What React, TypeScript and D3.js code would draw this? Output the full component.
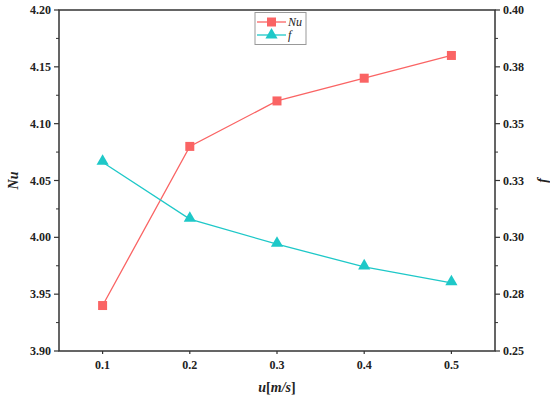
import React, { useEffect, useRef } from 'react';
import * as d3 from 'd3';

// data
const velocities = [0.1, 0.2, 0.3, 0.4, 0.5];
const nuValues = [3.94, 4.08, 4.12, 4.14, 4.16];
const fValues = [0.333, 0.308, 0.297, 0.287, 0.28];

const xTicks = [0.1, 0.2, 0.3, 0.4, 0.5];
const nuTicks = [3.9, 3.95, 4.0, 4.05, 4.1, 4.15, 4.2];
const fTicks = [0.25, 0.275, 0.3, 0.325, 0.35, 0.375, 0.4];
const fTickLabels = ['0.25', '0.28', '0.30', '0.33', '0.35', '0.38', '0.40'];

const NU_COLOR = '#FA6464';
const F_COLOR = '#1EC8C8';
const FONT = 'Times New Roman, Liberation Serif, DejaVu Serif, serif';

const W = 550;
const H = 397;

const App: React.FC = () => {
  const svgRef = useRef<SVGSVGElement>(null);

  useEffect(() => {
    if (!svgRef.current) return;
    const svg = d3.select(svgRef.current);
    svg.selectAll('*').remove();

    const margin = { top: 10, right: 55, bottom: 46, left: 59 };
    const x0 = margin.left;
    const x1 = W - margin.right;
    const y0 = margin.top;
    const y1 = H - margin.bottom;

    const x = d3.scaleLinear().domain([0.05, 0.55]).range([x0, x1]);
    const yNu = d3.scaleLinear().domain([3.9, 4.2]).range([y1, y0]);
    const yF = d3.scaleLinear().domain([0.25, 0.4]).range([y1, y0]);

    svg.append('rect').attr('width', W).attr('height', H).attr('fill', '#fff');

    const axisColor = '#333';

    // left ticks (major + minor)
    nuTicks.forEach((t, i) => {
      svg.append('line')
        .attr('x1', x0 - 5).attr('x2', x0)
        .attr('y1', yNu(t)).attr('y2', yNu(t))
        .attr('stroke', axisColor).attr('stroke-width', 1.2);
      svg.append('text')
        .attr('x', x0 - 8).attr('y', yNu(t))
        .attr('text-anchor', 'end').attr('dominant-baseline', 'central')
        .style('font-family', FONT).attr('font-weight', 'bold').attr('font-size', 12)
        .attr('fill', '#222')
        .text(d3.format('.2f')(t));
      if (i < nuTicks.length - 1) {
        const m = (t + nuTicks[i + 1]) / 2;
        svg.append('line')
          .attr('x1', x0 - 3).attr('x2', x0)
          .attr('y1', yNu(m)).attr('y2', yNu(m))
          .attr('stroke', axisColor).attr('stroke-width', 1);
      }
    });

    // right ticks
    fTicks.forEach((t, i) => {
      svg.append('line')
        .attr('x1', x1).attr('x2', x1 + 5)
        .attr('y1', yF(t)).attr('y2', yF(t))
        .attr('stroke', axisColor).attr('stroke-width', 1.2);
      svg.append('text')
        .attr('x', x1 + 8).attr('y', yF(t))
        .attr('text-anchor', 'start').attr('dominant-baseline', 'central')
        .style('font-family', FONT).attr('font-weight', 'bold').attr('font-size', 12)
        .attr('fill', '#222')
        .text(fTickLabels[i]);
      if (i < fTicks.length - 1) {
        const m = (t + fTicks[i + 1]) / 2;
        svg.append('line')
          .attr('x1', x1).attr('x2', x1 + 3)
          .attr('y1', yF(m)).attr('y2', yF(m))
          .attr('stroke', axisColor).attr('stroke-width', 1);
      }
    });

    // bottom ticks
    xTicks.forEach((t) => {
      svg.append('line')
        .attr('x1', x(t)).attr('x2', x(t))
        .attr('y1', y1).attr('y2', y1 + 3)
        .attr('stroke', axisColor).attr('stroke-width', 1.2);
      svg.append('text')
        .attr('x', x(t)).attr('y', y1 + 14)
        .attr('text-anchor', 'middle').attr('dominant-baseline', 'central')
        .style('font-family', FONT).attr('font-weight', 'bold').attr('font-size', 12)
        .attr('fill', '#222')
        .text(d3.format('.1f')(t));
    });

    // frame
    svg.append('rect')
      .attr('x', x0).attr('y', y0)
      .attr('width', x1 - x0).attr('height', y1 - y0)
      .attr('fill', 'none').attr('stroke', axisColor).attr('stroke-width', 1.5);

    // axis titles
    svg.append('text')
      .attr('transform', `translate(13,${(y0 + y1) / 2}) rotate(-90)`)
      .attr('text-anchor', 'middle').attr('dominant-baseline', 'central')
      .style('font-family', FONT).attr('font-weight', 'bold').attr('font-style', 'italic')
      .attr('font-size', 14).attr('fill', '#222')
      .text('Nu');

    svg.append('text')
      .attr('transform', `translate(542,${(y0 + y1) / 2}) rotate(-90)`)
      .attr('text-anchor', 'middle').attr('dominant-baseline', 'central')
      .style('font-family', FONT).attr('font-weight', 'bold').attr('font-style', 'italic')
      .attr('font-size', 14).attr('fill', '#222')
      .text('f');

    const xt = svg.append('text')
      .attr('x', (x0 + x1) / 2).attr('y', 387)
      .attr('text-anchor', 'middle').attr('dominant-baseline', 'central')
      .style('font-family', FONT).attr('font-weight', 'bold')
      .attr('font-size', 14).attr('fill', '#222');
    xt.append('tspan').attr('font-style', 'italic').text('u');
    xt.append('tspan').text('[');
    xt.append('tspan').attr('font-style', 'italic').text('m/s');
    xt.append('tspan').text(']');

    // series
    const nuLine = d3.line<number>()
      .x((_, i) => x(velocities[i]))
      .y((d) => yNu(d));
    const fLine = d3.line<number>()
      .x((_, i) => x(velocities[i]))
      .y((d) => yF(d));

    svg.append('path').datum(nuValues)
      .attr('d', nuLine).attr('fill', 'none')
      .attr('stroke', NU_COLOR).attr('stroke-width', 1.3);
    svg.append('path').datum(fValues)
      .attr('d', fLine).attr('fill', 'none')
      .attr('stroke', F_COLOR).attr('stroke-width', 1.3);

    const square = d3.symbol().type(d3.symbolSquare).size(81);
    const triangle = d3.symbol().type(d3.symbolTriangle).size(64);

    svg.selectAll('.nu-pt').data(nuValues).enter()
      .append('path').attr('class', 'nu-pt')
      .attr('d', square)
      .attr('transform', (d, i) => `translate(${x(velocities[i])},${yNu(d)})`)
      .attr('fill', NU_COLOR);

    svg.selectAll('.f-pt').data(fValues).enter()
      .append('path').attr('class', 'f-pt')
      .attr('d', triangle)
      .attr('transform', (d, i) => `translate(${x(velocities[i])},${yF(d) - 1})`)
      .attr('fill', F_COLOR);

    // legend
    const lg = svg.append('g').attr('transform', 'translate(255,12.5)');
    lg.append('rect')
      .attr('width', 51).attr('height', 32)
      .attr('fill', '#fff').attr('stroke', '#999').attr('stroke-width', 1);
    const items = [
      { label: 'Nu', color: NU_COLOR, sym: square, dy: 9.5 },
      { label: 'f', color: F_COLOR, sym: triangle, dy: 22.5 },
    ];
    items.forEach((it) => {
      lg.append('line')
        .attr('x1', 2).attr('x2', 31)
        .attr('y1', it.dy).attr('y2', it.dy)
        .attr('stroke', it.color).attr('stroke-width', 1.3);
      lg.append('path').attr('d', it.sym)
        .attr('transform', `translate(16.5,${it.dy})`)
        .attr('fill', it.color);
      lg.append('text')
        .attr('x', 33).attr('y', it.dy)
        .attr('dominant-baseline', 'central')
        .style('font-family', FONT).attr('font-style', 'italic')
        .attr('font-size', 12).attr('fill', '#222')
        .text(it.label);
    });
  }, []);

  return (
    <svg
      ref={svgRef}
      width={W}
      height={H}
      style={{ position: 'absolute', left: 0, top: 0 }}
    />
  );
};

export default App;
